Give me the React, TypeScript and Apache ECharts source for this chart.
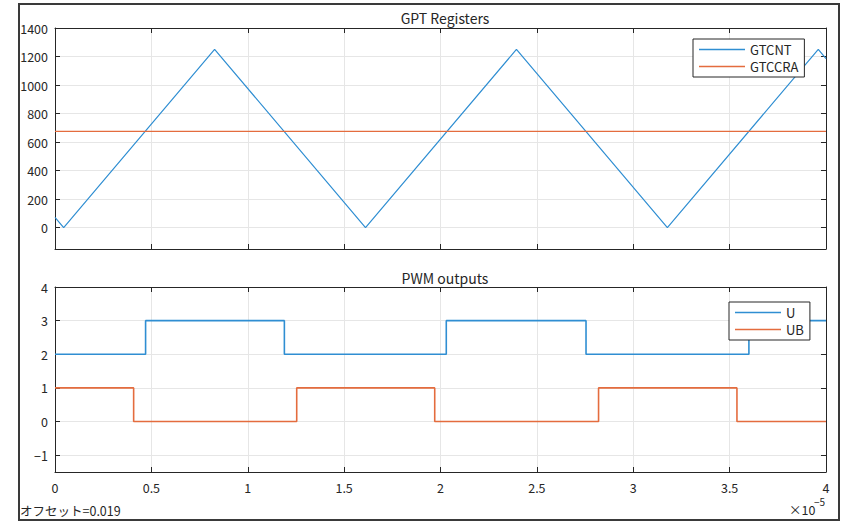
import React, { useEffect, useRef } from "react";
import * as echarts from "echarts";

// x values in units of 1e-5 s
const xTickStep = 0.5;
const gtcntX = [0, 0.045, 0.828, 1.611, 2.394, 3.177, 3.96, 4];
const gtcntY = [72, 0, 1250, 0, 1250, 0, 1250, 1186];
const gtccraX = [0, 4];
const gtccraY = [675, 675];
const uX = [0, 0.47, 1.19, 2.03, 2.755, 3.6, 4];
const uY = [2, 3, 2, 3, 2, 3, 3];
const ubX = [0, 0.408, 1.254, 1.97, 2.82, 3.538, 4];
const ubY = [1, 0, 1, 0, 1, 0, 0];
const topYTicks = [0, 200, 400, 600, 800, 1000, 1200, 1400];
const botYTicks = [-1, 0, 1, 2, 3, 4];

const FONT = "'Noto Sans CJK JP', 'Noto Sans', sans-serif";
const TXT = "#262626";
const BLUE = "#2f8ed2";
const ORANGE = "#e46c3e";

const zip = (xs: number[], ys: number[]) => xs.map((x, i) => [x, ys[i]]);

export default function App() {
  const ref = useRef<HTMLDivElement>(null);
  useEffect(() => {
    const chart = echarts.init(ref.current!, null, { renderer: "svg" });
    const xBase = (grid: number, pos: "bottom" | "top", labels: boolean) => ({
      type: "value",
      gridIndex: grid,
      position: pos,
      min: 0,
      max: 4,
      interval: xTickStep,
      axisLine: { onZero: false, lineStyle: { color: TXT, width: 1 } },
      axisTick: { inside: true, length: 5, lineStyle: { color: TXT } },
      axisLabel: {
        show: labels,
        color: TXT,
        fontFamily: FONT,
        fontSize: 12.5,
        margin: 9,
        formatter: (v: number) => String(v),
      },
      splitLine: { show: pos === "bottom", lineStyle: { color: "#e6e6e6" } },
    });
    const yBase = (
      grid: number,
      pos: "left" | "right",
      min: number,
      max: number,
      ticks: number[]
    ) => ({
      type: "value",
      gridIndex: grid,
      position: pos,
      min,
      max,
      axisLine: { show: true, onZero: false, lineStyle: { color: TXT, width: 1 } },
      axisTick: { show: true, inside: true, length: 5, lineStyle: { color: TXT }, customValues: ticks },
      axisLabel: {
        show: pos === "left",
        color: TXT,
        fontFamily: FONT,
        fontSize: 12.5,
        margin: 7,
        customValues: ticks,
        formatter: (v: number) => (v < 0 ? "\u2212" + Math.abs(v) : String(v)),
      },
      splitLine: { show: pos === "left", lineStyle: { color: "#e6e6e6" } },
    });
    chart.setOption({
      animation: false,
      backgroundColor: "#ffffff",
      textStyle: { fontFamily: FONT },
      title: [
        {
          text: "GPT Registers",
          left: 440,
          top: 6,
          textAlign: "center",
          textStyle: { fontFamily: FONT, fontSize: 14, fontWeight: "normal", color: TXT },
        },
        {
          text: "PWM outputs",
          left: 440,
          top: 266,
          textAlign: "center",
          textStyle: { fontFamily: FONT, fontSize: 14, fontWeight: "normal", color: TXT },
        },
      ],
      grid: [
        { left: 55, width: 771, top: 28, height: 221, containLabel: false },
        { left: 55, width: 771, top: 287, height: 185, containLabel: false },
      ],
      xAxis: [xBase(0, "bottom", false), xBase(0, "top", false), xBase(1, "bottom", true), xBase(1, "top", false)],
      yAxis: [
        yBase(0, "left", -150, 1400, topYTicks),
        yBase(0, "right", -150, 1400, topYTicks),
        yBase(1, "left", -1.5, 4, botYTicks),
        yBase(1, "right", -1.5, 4, botYTicks),
      ],
      legend: [
        {
          data: [
            { name: "GTCNT", icon: "rect" },
            { name: "GTCCRA", icon: "rect" },
          ],
          orient: "vertical",
          left: 693,
          top: 39,
          itemWidth: 46,
          itemHeight: 1.5,
          itemGap: 4,
          padding: [4, 6, 4, 6],
          backgroundColor: "#ffffff",
          borderColor: TXT,
          borderWidth: 1,
          borderRadius: 0,
          textStyle: { fontFamily: FONT, fontSize: 13, color: TXT },
          selectedMode: false,
        },
        {
          data: [
            { name: "U", icon: "rect" },
            { name: "UB", icon: "rect" },
          ],
          orient: "vertical",
          left: 729,
          top: 302,
          itemWidth: 46,
          itemHeight: 1.5,
          itemGap: 4,
          padding: [4, 6, 4, 6],
          backgroundColor: "#ffffff",
          borderColor: TXT,
          borderWidth: 1,
          borderRadius: 0,
          textStyle: { fontFamily: FONT, fontSize: 13, color: TXT },
          selectedMode: false,
        },
      ],
      series: [
        {
          name: "GTCNT",
          type: "line",
          xAxisIndex: 0,
          yAxisIndex: 0,
          data: zip(gtcntX, gtcntY),
          showSymbol: false,
          symbol: "none",
          lineStyle: { color: BLUE, width: 1.2 },
          itemStyle: { color: BLUE },
        },
        {
          name: "GTCCRA",
          type: "line",
          xAxisIndex: 0,
          yAxisIndex: 0,
          data: zip(gtccraX, gtccraY),
          showSymbol: false,
          symbol: "none",
          lineStyle: { color: ORANGE, width: 1.3 },
          itemStyle: { color: ORANGE },
        },
        {
          name: "U",
          type: "line",
          step: "end",
          xAxisIndex: 2,
          yAxisIndex: 2,
          data: zip(uX, uY),
          showSymbol: false,
          symbol: "none",
          lineStyle: { color: BLUE, width: 1.6 },
          itemStyle: { color: BLUE },
        },
        {
          name: "UB",
          type: "line",
          step: "end",
          xAxisIndex: 2,
          yAxisIndex: 2,
          data: zip(ubX, ubY),
          showSymbol: false,
          symbol: "none",
          lineStyle: { color: ORANGE, width: 1.6 },
          itemStyle: { color: ORANGE },
        },
      ],
      graphic: [
        {
          type: "rect",
          z: 100,
          silent: true,
          shape: { x: 19, y: 4, width: 820, height: 516 },
          style: { fill: "none", stroke: "#3a3a3a", lineWidth: 2 },
        },
        {
          type: "text",
          x: 20,
          y: 510,
          style: { text: "オフセット=0.019", font: `12.5px ${FONT}`, fill: TXT, verticalAlign: "middle" },
        },
        {
          type: "text",
          x: 789,
          y: 509,
          style: { text: "×10", font: `12.5px ${FONT}`, fill: TXT, verticalAlign: "middle" },
        },
        {
          type: "text",
          x: 814,
          y: 501,
          style: { text: "\u22125", font: `10px ${FONT}`, fill: TXT, verticalAlign: "middle" },
        },
      ],
    });
    return () => chart.dispose();
  }, []);
  return (
    <div
      ref={ref}
      style={{ position: "fixed", left: 0, top: 0, width: 848, height: 523 }}
    />
  );
}
